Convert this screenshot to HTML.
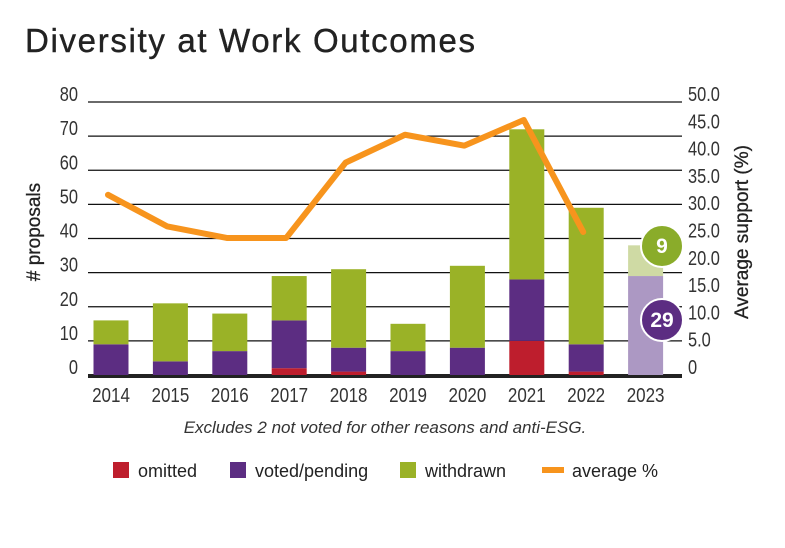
<!DOCTYPE html>
<html><head><meta charset="utf-8"><style>
body{margin:0;background:#fff;width:785px;height:543px;overflow:hidden}
svg text{font-family:"Liberation Sans",sans-serif}
</style></head><body>
<svg id="chart" width="785" height="543" xmlns="http://www.w3.org/2000/svg">
<text x="25" y="52" font-size="33" fill="#222" stroke="#222" stroke-width="0.4" textLength="450" lengthAdjust="spacing">Diversity at Work Outcomes</text>
<g id="grid"></g><g id="bars"></g><g id="line"></g><g id="labels"></g>
<text transform="translate(40,232) rotate(-90)" text-anchor="middle" font-size="19" fill="#222" stroke="#222" stroke-width="0.3">#&#160;proposals</text>
<text transform="translate(748,232) rotate(-90)" text-anchor="middle" font-size="19" fill="#222" stroke="#222" stroke-width="0.3">Average support (%)</text>
<text x="385" y="433" text-anchor="middle" font-size="17" font-style="italic" fill="#333">Excludes 2 not voted for other reasons and anti-ESG.</text>
<g font-size="18" fill="#222">
<rect x="113" y="462" width="16" height="16" fill="#be1e2d"/>
<text x="138" y="477">omitted</text>
<rect x="230" y="462" width="16" height="16" fill="#5c2d82"/>
<text x="255" y="477">voted/pending</text>
<rect x="400" y="462" width="16" height="16" fill="#9ab227"/>
<text x="425" y="477">withdrawn</text>
<rect x="542" y="467" width="22" height="6" fill="#f7941d"/>
<text x="572" y="477">average %</text>
</g>
</svg>
<script>
const years=["2014","2015","2016","2017","2018","2019","2020","2021","2022","2023"];
const omitted=[0,0,0,2,1,0,0,10,1,0];
const voted=[9,4,7,14,7,7,8,18,8,29];
const withdrawn=[7,17,11,13,23,8,24,44,40,9];
const avgSupport=[33.0,27.2,25.1,25.1,38.9,44.0,42.0,46.7,26.2];
const leftTicks=[0,10,20,30,40,50,60,70,80];
const rightTicks=["0","5.0","10.0","15.0","20.0","25.0","30.0","35.0","40.0","45.0","50.0"];
const NS="http://www.w3.org/2000/svg";
const y0=375,yTop=102,x0=88,x1=682;
const yL=v=>y0-(v/80)*(y0-yTop);
const yR=v=>y0-(v/50)*(y0-yTop);
const xC=i=>111+i*59.4;
const bw=35;
function mk(tag,attrs,parent){const e=document.createElementNS(NS,tag);for(const k in attrs)e.setAttribute(k,attrs[k]);parent.appendChild(e);return e;}
const grid=document.getElementById('grid'),bars=document.getElementById('bars'),line=document.getElementById('line'),labels=document.getElementById('labels');
leftTicks.forEach(t=>{
  if(t>0){const l=mk('line',{x1:x0,x2:x1,y1:yL(t),y2:yL(t),stroke:'#111','stroke-width':1.2},grid);
  
  }
  const tx=mk('text',{'text-anchor':'end','font-size':20,fill:'#333',transform:'translate(78,'+(yL(t)-1)+') scale(0.82,1)'},labels);tx.textContent=t;
  
  
});
rightTicks.forEach(t=>{
  const v=parseFloat(t);
  const tx=mk('text',{'font-size':20,fill:'#333',transform:'translate(688,'+(yR(v)-1)+') scale(0.82,1)'},labels);tx.textContent=t;
  
  
});
years.forEach((yr,i)=>{
  const x=xC(i)-bw/2;const last=i===years.length-1;
  let base=0;
  const segs=[[omitted[i],'#be1e2d','omitted'],[voted[i],last?'#ac98c3':'#5c2d82','voted'],[withdrawn[i],last?'#cfdaa4':'#9ab227','withdrawn']];
  segs.forEach(([v,c,n])=>{
    if(v>0){const r=mk('rect',{x:x,y:yL(base+v),width:bw,height:yL(base)-yL(base+v),fill:c},bars);
    
    }
    base+=v;
  });
  const tx=mk('text',{'text-anchor':'middle','font-size':20,fill:'#333',transform:'translate('+xC(i)+',402) scale(0.85,1)'},labels);tx.textContent=yr;
  
  
});
const ax=mk('line',{x1:x0,x2:x1,y1:y0+1,y2:y0+1,stroke:'#222','stroke-width':4},grid);


const pts=avgSupport.map((v,i)=>(xC(i)-3)+','+yR(v)).join(' ');
const pl=mk('polyline',{points:pts,fill:'none',stroke:'#f7941d','stroke-width':6,'stroke-linejoin':'round','stroke-linecap':'round'},line);


const li=years.length-1;
[[withdrawn[li],'#8aac2a',246],[voted[li],'#5c2d82',320]].forEach(([v,c,cy],k)=>{
  const ci=mk('circle',{cx:662,cy:cy,r:21,fill:c,stroke:'#fff','stroke-width':2},labels);
  
  
  const t=mk('text',{x:662,y:cy+7,'text-anchor':'middle','font-size':21,'font-weight':'bold',fill:'#fff'},labels);t.textContent=v;
  
  
});
</script>
</body></html>
